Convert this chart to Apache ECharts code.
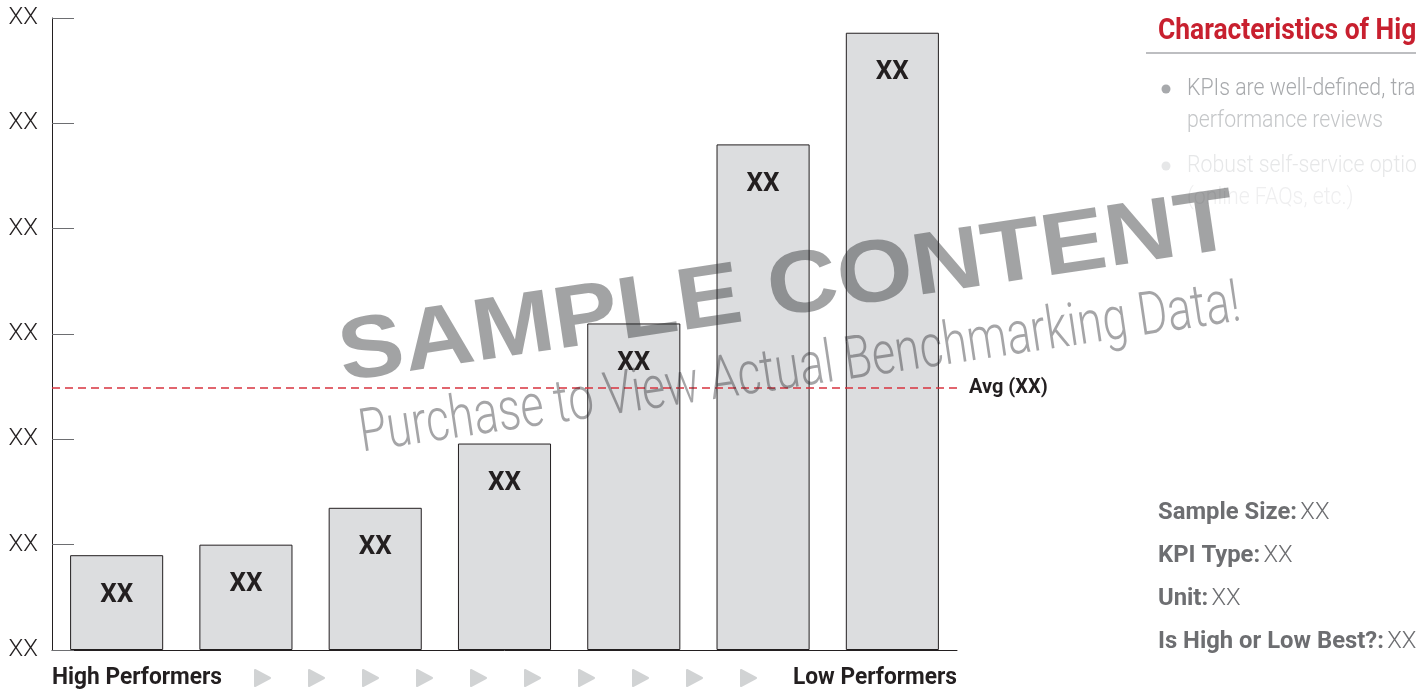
<!DOCTYPE html>
<html><head><meta charset="utf-8">
<script src="https://cdn.jsdelivr.net/npm/echarts@6/dist/echarts.min.js"></script>
<style>html,body{margin:0;padding:0;background:#fff}#c{width:1416px;height:693px}</style>
</head><body><div id="c"></div>
<script>
const categories = ['P1','P2','P3','P4','P5','P6','P7'];
const values = [0.90, 1.00, 1.35, 1.96, 3.10, 4.80, 5.86];
const barLabels = ['XX','XX','XX','XX','XX','XX','XX'];
const yTickLabels = ['XX','XX','XX','XX','XX','XX','XX'];
const avgValue = 2.49;
const avgLabel = 'Avg (XX)';
const endLabels = ['High Performers', 'Low Performers'];
const panelTitle = 'Characteristics of High Performers';
const bullets = [
  ['KPIs are well-defined, tracked and used in', 'performance reviews'],
  ['Robust self-service options for customers', '(online FAQs, etc.)']
];
const infoRows = [['Sample Size:', 'XX'], ['KPI Type:', 'XX'], ['Unit:', 'XX'], ['Is High or Low Best?:', 'XX']];

const FONT = "Roboto, 'Liberation Sans', sans-serif";
const ctx = document.createElement('canvas').getContext('2d');
function widthOf(text, font) { ctx.font = font; return ctx.measureText(text).width; }
function fitScale(text, font, target) { return target / widthOf(text, font); }

const chart = echarts.init(document.getElementById('c'));
const graphics = [];

// end labels (condensed look)
const endFont = "bold 24px " + FONT;
const endScale = fitScale(endLabels[0], endFont, 170);
graphics.push({type:'text', x:52, y:678, scaleX:endScale, style:{text:endLabels[0], font:endFont, fill:'#231f20', verticalAlign:'middle'}});
graphics.push({type:'text', x:957, y:678, scaleX:endScale, style:{text:endLabels[1], font:endFont, fill:'#231f20', align:'right', verticalAlign:'middle'}});
// progression arrows
for (let i = 0; i < 10; i++) {
  const cx = 262 + i * 54;
  graphics.push({type:'polygon', shape:{points:[[cx-7,670],[cx+8,678],[cx-7,686]]}, style:{fill:'#d1d3d4', stroke:'#d1d3d4', lineWidth:2, lineJoin:'round'}});
}
// side panel
const titleFont = "bold 30px " + FONT;
const condScale = fitScale('Characteristics of', titleFont, 211);
graphics.push({type:'text', x:1158, y:31, scaleX:condScale, style:{text:panelTitle, font:titleFont, fill:'#c8202f', verticalAlign:'middle'}});
graphics.push({type:'line', shape:{x1:1146, y1:53, x2:1416, y2:53}, style:{stroke:'#a7a9ac', lineWidth:1.5}});
const bulletFont = "300 24px " + FONT;
const bulletScale = fitScale('performance reviews', bulletFont, 196);
const bulletColors = [['#a7a9ac','#a7a9ac','#c4c6c8'], ['#e6e7e8','#e6e7e8','#efeff0']];
bullets.forEach((b, i) => {
  const y0 = 89 + i * 77;
  graphics.push({type:'circle', shape:{cx:1166, cy:y0, r:4.5}, style:{fill:bulletColors[i][0]}});
  graphics.push({type:'text', x:1187, y:y0, scaleX:bulletScale, style:{text:b[0], font:bulletFont, fill:bulletColors[i][1], verticalAlign:'middle'}});
  graphics.push({type:'text', x:1187, y:y0+32, scaleX:bulletScale, style:{text:b[1], font:bulletFont, fill:bulletColors[i][2], verticalAlign:'middle'}});
});
const infoBold = "bold 24px " + FONT, infoLight = "300 24px " + FONT;
const infoScale = fitScale('Sample Size:', infoBold, 139);
infoRows.forEach((r, i) => {
  graphics.push({type:'text', x:1158, y:513 + i*43, scaleX:infoScale, style:{
    text:'{b|' + r[0] + '} {v|' + r[1] + '}', verticalAlign:'middle',
    rich:{b:{font:infoBold, fill:'#6d6e71'}, v:{font:infoLight, fill:'#6d6e71'}}
  }});
});
// watermark
const wm1Font = "bold 88px 'Liberation Sans', Arial, sans-serif";
const wm2Font = "300 60px " + FONT;
const rot = 8.5 * Math.PI / 180;
graphics.push({type:'text', x:787, y:290, rotation:rot, z:100, scaleX:fitScale('SAMPLE CONTENT', wm1Font, 905), style:{
  text:'SAMPLE CONTENT', font:wm1Font, fill:'rgba(40,41,45,0.43)', align:'center', verticalAlign:'middle'}});
graphics.push({type:'text', x:800, y:371, rotation:rot, z:100, scaleX:fitScale('Purchase to View Actual Benchmarking Data!', wm2Font, 890), style:{
  text:'Purchase to View Actual Benchmarking Data!', font:wm2Font, fill:'rgba(40,41,45,0.42)', align:'center', verticalAlign:'middle'}});

chart.setOption({
  animation:false,
  grid:{left:52, right:1416-957, top:18, bottom:693-650},
  xAxis:{type:'category', data:categories, boundaryGap:true,
    axisLine:{lineStyle:{color:'#231f20', width:1}},
    axisTick:{inside:true, length:15, lineStyle:{color:'#231f20'}},
    axisLabel:{show:false}, splitLine:{show:false}},
  yAxis:{type:'value', min:0, max:6, interval:1,
    axisLine:{show:true, lineStyle:{color:'#231f20', width:1}},
    axisTick:{show:true, inside:true, length:22, lineStyle:{color:'#6d6e71'}},
    splitLine:{show:false},
    axisLabel:{margin:14, formatter:(v, i) => yTickLabels[i] ?? '', fontFamily:FONT, fontWeight:300, fontSize:24, color:'#231f20'}},
  series:[
    {type:'line', data:[], z:1, silent:true,
     markLine:{silent:true, symbol:'none', data:[{yAxis:avgValue}],
       lineStyle:{color:'#d7333f', type:[8,5], width:1.5},
       label:{position:'end', distance:12, formatter:avgLabel, fontFamily:FONT, fontWeight:'bold', fontSize:20, color:'#231f20'}}},
    {type:'bar', data:values, z:3, barWidth:'72%',
     itemStyle:{color:'#dcdddf', borderColor:'#231f20', borderWidth:1},
     label:{show:true, position:'insideTop', distance:27, formatter:p => barLabels[p.dataIndex],
       fontFamily:FONT, fontWeight:'bold', fontSize:26, color:'#231f20'}}
  ],
  graphic:graphics
});
</script></body></html>
